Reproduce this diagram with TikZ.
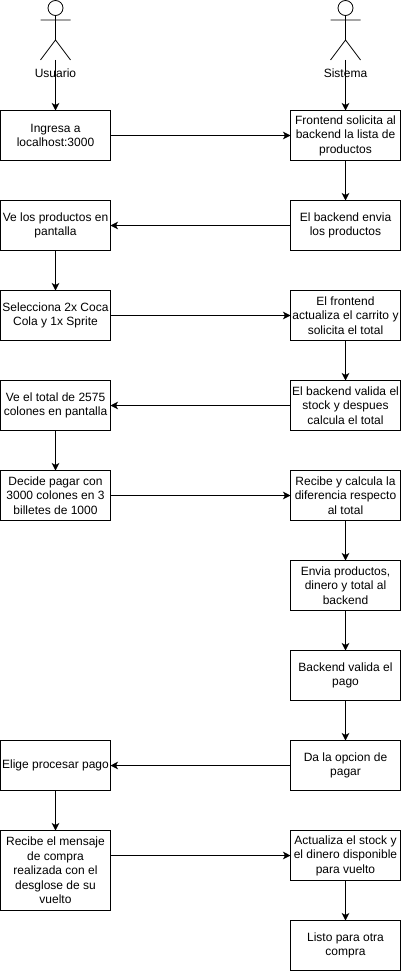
\documentclass[tikz,border=0pt]{standalone}
\usepackage{fontspec}
\setmainfont{Liberation Sans}
\usetikzlibrary{arrows.meta}
\tikzset{
 x=1pt,y=-1pt,
 box/.style={draw=black,line width=0.9pt,fill=white,minimum width=110pt,outer sep=0pt,inner sep=0pt,align=center,anchor=north west,font=\fontsize{12}{14.5}\selectfont},
 flow/.style={draw=black,line width=0.9pt,-{Stealth[length=7.5pt,width=7.5pt,inset=2pt]}},
 actorline/.style={draw=black,line width=0.8pt},
 actorlabel/.style={font=\fontsize{12}{14.5}\selectfont,inner sep=0pt,anchor=center}
}
\newcommand{\bx}[5]{\node[box,minimum height=#4pt] (#1) at (#2,#3) {#5};}
\newcommand{\actor}[3]{%
 \draw[actorline] (#2,8) circle[radius=7.5];
 \draw[actorline] (#2,15.5) -- (#2,40) (#2-15,20) -- (#2+15,20) (#2-15,60) -- (#2,40) -- (#2+15,60);
 \coordinate (#1) at (#2,60);
 \node[actorlabel] (#1label) at (#2,73.5) {#3};}
\begin{document}
\begin{tikzpicture}
\useasboundingbox (0,0) rectangle (401,971);
\actor{usuario}{55.5}{Usuario}
\actor{sistema}{345.5}{Sistema}
\bx{a}{0.5}{110.5}{50}{Ingresa a\\localhost:3000}
\bx{b}{0.5}{200.5}{50}{Ve los productos en\\pantalla}
\bx{c}{0.5}{290.5}{50}{Selecciona 2x Coca\\Cola y 1x Sprite}
\bx{d}{0.5}{380.5}{50}{Ve el total de 2575\\colones en pantalla}
\bx{e}{0.5}{470.5}{50}{Decide pagar con\\3000 colones en 3\\billetes de 1000}
\bx{f}{0.5}{740.5}{50}{Elige procesar pago}
\bx{g}{0.5}{830.5}{80}{Recibe el mensaje\\de compra\\realizada con el\\desglose de su\\vuelto}
\bx{r1}{290.5}{110.5}{50}{Frontend solicita al\\backend la lista de\\productos}
\bx{r2}{290.5}{200.5}{50}{El backend envia\\los productos}
\bx{r3}{290.5}{290.5}{50}{El frontend\\actualiza el carrito y\\solicita el total}
\bx{r4}{290.5}{380.5}{50}{El backend valida el\\stock y despues\\calcula el total}
\bx{r5}{290.5}{470.5}{50}{Recibe y calcula la\\diferencia respecto\\al total}
\bx{r6}{290.5}{560.5}{50}{Envia productos,\\dinero y total al\\backend}
\bx{r7}{290.5}{650.5}{50}{Backend valida el\\pago}
\bx{r8}{290.5}{740.5}{50}{Da la opcion de\\pagar}
\bx{r9}{290.5}{830.5}{50}{Actualiza el stock y\\el dinero disponible\\para vuelto}
\bx{r10}{290.5}{920.5}{50}{Listo para otra\\compra}
\draw[flow] (usuario) -- (a);
\draw[flow] (sistema) -- (r1);
\draw[flow] (a) -- (r1);
\draw[flow] (r1) -- (r2);
\draw[flow] (r2) -- (b);
\draw[flow] (b) -- (c);
\draw[flow] (c) -- (r3);
\draw[flow] (r3) -- (r4);
\draw[flow] (r4) -- (d);
\draw[flow] (d) -- (e);
\draw[flow] (e) -- (r5);
\draw[flow] (r5) -- (r6);
\draw[flow] (r6) -- (r7);
\draw[flow] (r7) -- (r8);
\draw[flow] (r8) -- (f);
\draw[flow] (f) -- (g);
\draw[flow] (g.east |- r9) -- (r9);
\draw[flow] (r9) -- (r10);
\end{tikzpicture}
\end{document}
